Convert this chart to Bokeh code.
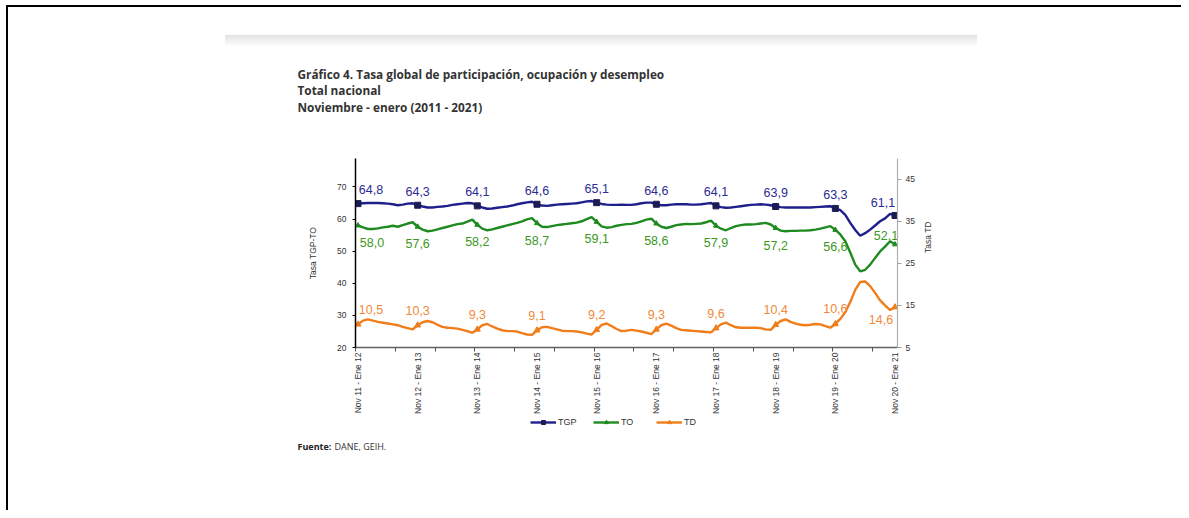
import math
from bokeh.plotting import figure
from bokeh.layouts import column
from bokeh.models import (Range1d, LinearAxis, FixedTicker, Label, Legend, LegendItem,
                          ColumnDataSource)
from bokeh.embed import file_html
from bokeh.resources import INLINE
from bokeh.core.properties import value

# ---------------- data ----------------
period_index = list(range(109))
tick_positions = [0, 12, 24, 36, 48, 60, 72, 84, 96, 108]
tick_labels = ["Nov 11 - Ene 12", "Nov 12 - Ene 13", "Nov 13 - Ene 14", "Nov 14 - Ene 15",
               "Nov 15 - Ene 16", "Nov 16 - Ene 17", "Nov 17 - Ene 18", "Nov 18 - Ene 19",
               "Nov 19 - Ene 20", "Nov 20 - Ene 21"]

tgp = [64.8, 64.9, 65.0, 65.0, 65.0, 64.9, 64.8, 64.6, 64.3, 64.5, 64.8, 64.9,
       64.3, 63.9, 63.6, 63.6, 63.8, 63.9, 64.1, 64.4, 64.6, 64.8, 65.0, 64.9,
       64.1, 63.6, 63.2, 63.3, 63.5, 63.7, 63.9, 64.2, 64.6, 64.9, 65.2, 65.4,
       64.6, 64.2, 64.1, 64.3, 64.5, 64.6, 64.7, 64.8, 64.9, 65.2, 65.5, 65.6,
       65.1, 64.7, 64.5, 64.4, 64.4, 64.5, 64.4, 64.4, 64.6, 64.9, 65.1, 65.1,
       64.6, 64.3, 64.3, 64.5, 64.6, 64.6, 64.6, 64.5, 64.5, 64.6, 64.8, 65.0,
       64.1, 63.7, 63.5, 63.6, 63.8, 64.0, 64.2, 64.4, 64.5, 64.6, 64.5, 64.3,
       63.9, 63.7, 63.6, 63.6, 63.6, 63.6, 63.6, 63.6, 63.7, 63.8, 63.9, 64.0,
       63.3, 62.8, 61.3, 58.8, 56.6, 54.8, 55.6, 56.7, 58.0, 59.3, 60.2, 61.6, 61.1]

to_ = [58.0, 57.4, 56.9, 56.9, 57.1, 57.4, 57.6, 57.9, 57.6, 58.1, 58.6, 59.0,
       57.6, 56.7, 56.2, 56.4, 56.8, 57.2, 57.6, 58.0, 58.4, 58.6, 59.2, 59.8,
       58.2, 57.0, 56.5, 56.8, 57.2, 57.6, 58.0, 58.4, 58.8, 59.3, 59.9, 60.3,
       58.7, 57.6, 57.5, 57.8, 58.1, 58.3, 58.5, 58.7, 58.9, 59.3, 60.0, 60.6,
       59.1, 57.7, 57.3, 57.5, 57.9, 58.2, 58.4, 58.5, 58.8, 59.3, 59.8, 60.1,
       58.6, 57.6, 57.2, 57.6, 58.1, 58.3, 58.5, 58.4, 58.5, 58.6, 59.0, 59.5,
       57.9, 57.0, 56.5, 57.2, 57.8, 58.1, 58.3, 58.3, 58.4, 58.6, 58.8, 58.3,
       57.2, 56.4, 56.2, 56.3, 56.3, 56.4, 56.4, 56.5, 56.7, 57.0, 57.4, 57.8,
       56.6, 55.2, 53.1, 49.6, 45.8, 43.7, 44.2, 45.8, 47.9, 49.9, 51.4, 53.1, 52.1]

td = [10.5, 11.4, 11.7, 11.4, 11.1, 10.9, 10.7, 10.5, 10.3, 9.9, 9.6, 9.3,
      10.3, 11.0, 11.3, 11.0, 10.4, 9.9, 9.7, 9.6, 9.5, 9.2, 8.9, 8.5,
      9.3, 10.3, 10.6, 10.0, 9.5, 9.1, 8.9, 8.9, 8.8, 8.4, 8.1, 8.0,
      9.1, 9.8, 9.9, 9.6, 9.3, 9.0, 8.9, 8.9, 8.8, 8.6, 8.3, 8.1,
      9.2, 10.4, 10.7, 10.1, 9.4, 8.9, 9.0, 9.2, 9.0, 8.8, 8.5, 8.2,
      9.3, 10.3, 10.7, 10.2, 9.6, 9.2, 9.1, 9.0, 8.9, 8.8, 8.7, 8.6,
      9.6, 10.5, 10.9, 10.3, 9.8, 9.7, 9.7, 9.7, 9.7, 9.6, 9.3, 9.2,
      10.4, 11.3, 11.7, 11.1, 10.7, 10.4, 10.3, 10.4, 10.6, 10.5, 10.1, 9.7,
      10.6, 11.8, 13.4, 15.8, 18.7, 20.6, 20.7, 19.6, 18.0, 16.2, 15.0, 13.9, 14.6]

series_names = ["TGP", "TO", "TD"]
title_lines = ["Gráfico 4. Tasa global de participación, ocupación y desempleo",
               "Total nacional",
               "Noviembre - enero (2011 - 2021)"]
source_bold = "Fuente:"
source_rest = "DANE, GEIH."

# ---------------- styles ----------------
C_TGP, C_TGP_MK, C_TGP_TXT = "#1f1f8c", "#1c1c55", "#2c2c94"
C_TO, C_TO_TXT = "#1f8a1f", "#3a981c"
C_TD, C_TD_TXT = "#f07d1a", "#f0893a"
AX_FONT = "Liberation Sans"
TITLE_FONT = "Open Sans"

W = 1181
TOP_H = 130                     # page y 0..130
MAIN_TOP_B, FRAME_H, MAIN_BOT_B = 28, 191, 67
MAIN_H = MAIN_TOP_B + FRAME_H + MAIN_BOT_B   # page y 130..416
BOT_Y0 = TOP_H + MAIN_H
BOT_H = 510 - BOT_Y0
FRAME_L, FRAME_R = 355, 897

LEFT_LINE_CSS = {
    "background-color": "white",
    "background-image": "linear-gradient(#000000, #000000)",
    "background-position": "6px 0px",
    "background-size": "2px 100%",
    "background-repeat": "no-repeat",
}


def no_align(f):
    try:
        f.frame_align = False
    except Exception:
        pass


def blank_fig(h, y0):
    f = figure(width=W, height=h, output_backend="svg", toolbar_location=None,
               x_range=Range1d(0, W), y_range=Range1d(y0 + h, y0), min_border=0,
               x_axis_location=None, y_axis_location=None, title_location=None)
    f.grid.visible = False
    f.outline_line_color = None
    f.background_fill_alpha = 0
    f.border_fill_alpha = 0
    no_align(f)
    return f


# ---------- top: page frame, shadow band, titles ----------
top = blank_fig(TOP_H, 0)
top.styles = {
    "background-color": "white",
    "background-image": "linear-gradient(#000000, #000000), linear-gradient(#000000, #000000), "
                        "linear-gradient(to bottom, #e2e2e2, #ffffff)",
    "background-position": "6px 5px, 6px 5px, 225px 35px",
    "background-size": "1175px 2px, 2px 100%, 752px 12px",
    "background-repeat": "no-repeat",
}
for txt, yy in zip(title_lines, [73, 89, 106]):
    top.add_layout(Label(x=297, y=yy, text=txt, text_font=TITLE_FONT, text_font_size="11.8px",
                         text_font_style="bold", text_color="#333333",
                         text_baseline="middle", text_align="left"))

# ---------- main chart ----------
p = figure(width=W, height=MAIN_H, output_backend="svg", toolbar_location=None,
           x_range=Range1d(-0.5, 108.5), y_range=Range1d(20, 78.85),
           min_border_left=FRAME_L, min_border_right=W - FRAME_R,
           min_border_top=MAIN_TOP_B, min_border_bottom=MAIN_BOT_B,
           x_axis_location=None, y_axis_location=None, title_location=None)
p.extra_y_ranges = {"td": Range1d(5, 49.95)}
p.grid.visible = False
p.outline_line_color = None
p.background_fill_color = "white"
p.border_fill_alpha = 0
p.styles = dict(LEFT_LINE_CSS)
no_align(p)

ax_l = LinearAxis(ticker=FixedTicker(ticks=[20, 30, 40, 50, 60, 70]), axis_label="Tasa TGP-TO")
ax_r = LinearAxis(y_range_name="td", ticker=FixedTicker(ticks=[5, 15, 25, 35, 45]), axis_label="Tasa TD")
ax_b = LinearAxis(ticker=FixedTicker(ticks=tick_positions,
                                     minor_ticks=[-0.5 + 8 * k for k in range(14)]))
ax_b.major_label_overrides = {t: l for t, l in zip(tick_positions, tick_labels)}
ax_b.major_label_orientation = math.pi / 2

for ax in (ax_l, ax_r, ax_b):
    ax.major_label_text_font = AX_FONT
    ax.major_label_text_font_size = "8.5px"
    ax.major_label_text_color = "#333333"
    ax.axis_label_text_font = AX_FONT
    ax.axis_label_text_font_size = "8.5px"
    ax.axis_label_text_font_style = "normal"
    ax.axis_label_text_color = "#333333"
    ax.minor_tick_line_color = None
    ax.major_tick_in = 0

ax_l.axis_line_color = "black"
ax_l.axis_line_width = 1.5
ax_l.major_tick_line_color = "black"
ax_l.major_tick_out = 3
ax_l.major_label_standoff = 6
ax_l.axis_label_standoff = 16

ax_r.axis_line_color = "#b0b0b0"
ax_r.axis_line_width = 1.2
ax_r.major_tick_line_color = "#a0a0a0"
ax_r.major_tick_out = 4
ax_r.major_label_standoff = 4
ax_r.axis_label_standoff = 10
try:
    ax_r.axis_label_orientation = math.pi / 2
except Exception:
    pass

ax_b.axis_line_color = "#606060"
ax_b.axis_line_width = 1.5
ax_b.major_tick_line_color = None
ax_b.major_tick_out = 3
ax_b.minor_tick_line_color = "#505050"
ax_b.minor_tick_out = 4
ax_b.minor_tick_in = 0
ax_b.major_label_standoff = 1

p.add_layout(ax_l, "left")
p.add_layout(ax_r, "right")
p.add_layout(ax_b, "below")

p.line(period_index, tgp, line_color=C_TGP, line_width=2.4)
p.line(period_index, to_, line_color=C_TO, line_width=2.4)
p.line(period_index, td, line_color=C_TD, line_width=2.4, y_range_name="td")

mk_x = tick_positions
p.scatter(mk_x, [tgp[i] for i in mk_x], marker="square", size=6, color=C_TGP_MK)
p.scatter(mk_x, [to_[i] for i in mk_x], marker="triangle", size=5, color=C_TO)
p.scatter(mk_x, [td[i] for i in mk_x], marker="triangle", size=6, color=C_TD, y_range_name="td")


def fmt(v):
    return f"{v:.1f}".replace(".", ",")


def label_source(series, dx_first, dy, dx_last, dy_last):
    n = len(mk_x)
    xo = [0.0] * n
    yo = [dy] * n
    xo[0] = dx_first
    xo[-1] = dx_last
    yo[-1] = dy_last
    return ColumnDataSource(dict(x=mk_x, y=[series[i] for i in mk_x],
                                 t=[fmt(series[i]) for i in mk_x], xo=xo, yo=yo))


src_tgp = label_source(tgp, 13, -14, -12, -13)
src_to = label_source(to_, 14, 17, -9, -9)
src_td = label_source(td, 13, -15, -14, 12)

common = dict(text="t", x_offset="xo", y_offset="yo", text_align="center", text_baseline="middle",
              text_font=value(AX_FONT), text_font_size="12.5px")
p.text(x="x", y="y", source=src_tgp, text_color=C_TGP_TXT, **common)
p.text(x="x", y="y", source=src_to, text_color=C_TO_TXT, **common)
p.text(x="x", y="y", source=src_td, text_color=C_TD_TXT, y_range_name="td", **common)

# ---------- bottom: legend and source note ----------
bot = blank_fig(BOT_H, BOT_Y0)
bot.styles = dict(LEFT_LINE_CSS)
lg = []
# legend-only glyph renderers (one point placed outside the visible range)
for name, lc, mc, mk, ms in zip(series_names, [C_TGP, C_TO, C_TD], [C_TGP_MK, C_TO, C_TD],
                                ["square", "triangle", "triangle"], [6, 5, 6]):
    r_line = bot.line(x=[-50, -40], y=[-50, -50], line_color=lc, line_width=2.4)
    r_mark = bot.scatter(x=[-50], y=[-50], marker=mk, size=ms, color=mc)
    lg.append(LegendItem(label=name, renderers=[r_line, r_mark]))
legend = Legend(items=lg, orientation="horizontal", location=(530, BOT_Y0 + BOT_H - 427),
                glyph_width=26, glyph_height=10, label_standoff=2, spacing=15,
                padding=0, margin=0, border_line_color=None, background_fill_alpha=0,
                label_text_font=AX_FONT, label_text_font_size="9px", label_text_color="#333333",
                label_height=10)
bot.add_layout(legend, "center")

bot.add_layout(Label(x=297, y=446, text=source_bold, text_font=TITLE_FONT, text_font_size="9px",
                     text_font_style="bold", text_color="#222222",
                     text_baseline="middle", text_align="left"))
bot.add_layout(Label(x=334, y=446, text=source_rest, text_font=TITLE_FONT, text_font_size="9px",
                     text_color="#333333", text_baseline="middle", text_align="left"))

layout = column(top, p, bot, spacing=0)
open("out.html", "w").write(file_html(layout, INLINE))
